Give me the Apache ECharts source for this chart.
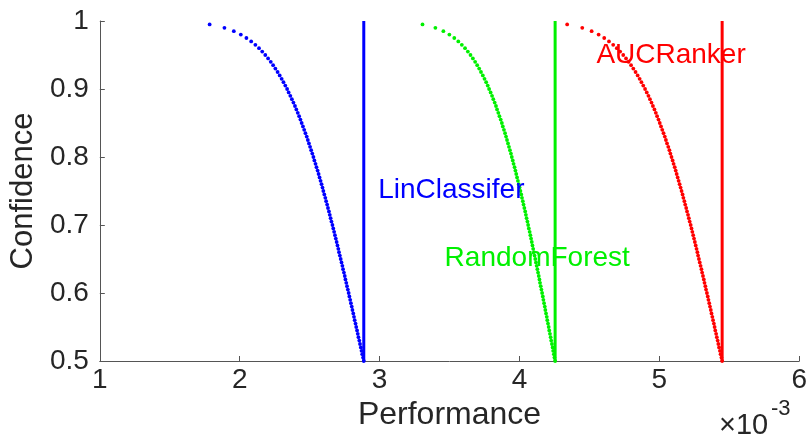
<!DOCTYPE html>
<html>
<head>
<meta charset="utf-8">
<script src="https://cdn.jsdelivr.net/npm/echarts@6/dist/echarts.min.js"></script>
<style>
  html, body { margin: 0; padding: 0; background: #fff; }
  #chart { width: 810px; height: 442px; }
</style>
</head>
<body>
<div id="chart"></div>
<script>
// confidence levels (y) shared by the three dotted curves
var confidence = [0.5, 0.505, 0.51, 0.515, 0.52, 0.525, 0.53, 0.535, 0.54, 0.545,
  0.55, 0.555, 0.56, 0.565, 0.57, 0.575, 0.58, 0.585, 0.59, 0.595,
  0.6, 0.605, 0.61, 0.615, 0.62, 0.625, 0.63, 0.635, 0.64, 0.645,
  0.65, 0.655, 0.66, 0.665, 0.67, 0.675, 0.68, 0.685, 0.69, 0.695,
  0.7, 0.705, 0.71, 0.715, 0.72, 0.725, 0.73, 0.735, 0.74, 0.745,
  0.75, 0.755, 0.76, 0.765, 0.77, 0.775, 0.78, 0.785, 0.79, 0.795,
  0.8, 0.805, 0.81, 0.815, 0.82, 0.825, 0.83, 0.835, 0.84, 0.845,
  0.85, 0.855, 0.86, 0.865, 0.87, 0.875, 0.88, 0.885, 0.89, 0.895,
  0.9, 0.905, 0.91, 0.915, 0.92, 0.925, 0.93, 0.935, 0.94, 0.945,
  0.95, 0.955, 0.96, 0.965, 0.97, 0.975, 0.98, 0.985, 0.99, 0.995];

// performance (x, in units of 1e-3) for each confidence level
var linPerf = [2.887, 2.882, 2.876, 2.871, 2.866, 2.860, 2.855, 2.849, 2.844, 2.839,
  2.833, 2.828, 2.822, 2.817, 2.812, 2.806, 2.801, 2.795, 2.790, 2.784,
  2.779, 2.773, 2.767, 2.762, 2.756, 2.751, 2.745, 2.739, 2.734, 2.728,
  2.722, 2.716, 2.710, 2.705, 2.699, 2.693, 2.687, 2.681, 2.675, 2.669,
  2.663, 2.656, 2.650, 2.644, 2.638, 2.631, 2.625, 2.618, 2.612, 2.605,
  2.598, 2.592, 2.585, 2.578, 2.571, 2.564, 2.557, 2.549, 2.542, 2.534,
  2.527, 2.519, 2.511, 2.503, 2.495, 2.487, 2.479, 2.470, 2.461, 2.452,
  2.443, 2.434, 2.425, 2.415, 2.405, 2.395, 2.384, 2.373, 2.362, 2.350,
  2.339, 2.326, 2.313, 2.300, 2.286, 2.271, 2.255, 2.239, 2.222, 2.203,
  2.183, 2.161, 2.138, 2.112, 2.082, 2.048, 2.008, 1.958, 1.891, 1.785];

var rfPerf = [4.255, 4.250, 4.246, 4.241, 4.237, 4.232, 4.227, 4.223, 4.218, 4.213,
  4.209, 4.204, 4.199, 4.195, 4.190, 4.185, 4.181, 4.176, 4.171, 4.167,
  4.162, 4.157, 4.152, 4.147, 4.143, 4.138, 4.133, 4.128, 4.123, 4.118,
  4.113, 4.108, 4.103, 4.098, 4.093, 4.088, 4.083, 4.078, 4.073, 4.067,
  4.062, 4.057, 4.051, 4.046, 4.041, 4.035, 4.029, 4.024, 4.018, 4.013,
  4.007, 4.001, 3.995, 3.989, 3.983, 3.977, 3.971, 3.965, 3.958, 3.952,
  3.945, 3.939, 3.932, 3.925, 3.918, 3.911, 3.904, 3.897, 3.889, 3.881,
  3.874, 3.866, 3.857, 3.849, 3.840, 3.832, 3.823, 3.813, 3.804, 3.794,
  3.783, 3.773, 3.762, 3.750, 3.738, 3.725, 3.712, 3.698, 3.683, 3.667,
  3.650, 3.631, 3.611, 3.588, 3.563, 3.534, 3.499, 3.456, 3.399, 3.307];

var aucPerf = [5.449, 5.444, 5.438, 5.433, 5.427, 5.422, 5.417, 5.411, 5.406, 5.400,
  5.395, 5.390, 5.384, 5.379, 5.373, 5.368, 5.362, 5.357, 5.351, 5.346,
  5.340, 5.334, 5.329, 5.323, 5.318, 5.312, 5.306, 5.301, 5.295, 5.289,
  5.283, 5.277, 5.272, 5.266, 5.260, 5.254, 5.248, 5.242, 5.236, 5.230,
  5.224, 5.217, 5.211, 5.205, 5.198, 5.192, 5.185, 5.179, 5.172, 5.166,
  5.159, 5.152, 5.145, 5.138, 5.131, 5.124, 5.117, 5.110, 5.102, 5.095,
  5.087, 5.079, 5.072, 5.064, 5.055, 5.047, 5.039, 5.030, 5.021, 5.012,
  5.003, 4.994, 4.984, 4.975, 4.965, 4.954, 4.944, 4.933, 4.922, 4.910,
  4.898, 4.885, 4.872, 4.859, 4.845, 4.830, 4.814, 4.798, 4.780, 4.762,
  4.742, 4.720, 4.696, 4.670, 4.640, 4.606, 4.566, 4.516, 4.449, 4.341];

var names = ['LinClassifer', 'RandomForest', 'AUCRanker'];
var colors = ['#0000ff', '#00f000', '#ff0000'];
var curves = [linPerf, rfPerf, aucPerf];
var meanPerf = [2.887, 4.255, 5.449];     // vertical lines
var labelPos = [[2.99, 0.751], [3.465, 0.651], [4.55, 0.95]];

var FONT = 'Liberation Sans';

function zip(xs, ys) {
  var out = [];
  for (var i = 0; i < xs.length; i++) out.push([xs[i], ys[i]]);
  return out;
}

var series = [];
for (var k = 0; k < names.length; k++) {
  series.push({
    name: names[k] + ' dots',
    type: 'scatter',
    symbol: 'circle',
    symbolSize: 3.8,
    itemStyle: { color: colors[k], opacity: 1 },
    data: zip(curves[k], confidence),
    z: 2
  });
  series.push({
    name: names[k] + ' line',
    type: 'line',
    showSymbol: false,
    symbol: 'none',
    lineStyle: { color: colors[k], width: 3 },
    data: [[meanPerf[k], 0.5], [meanPerf[k], 1]],
    z: 3
  });
  series.push({
    name: names[k],
    type: 'scatter',
    symbolSize: 0,
    silent: true,
    itemStyle: { color: colors[k], opacity: 1 },
    data: [labelPos[k]],
    label: {
      show: true,
      position: 'right',
      distance: 0,
      formatter: names[k],
      color: colors[k],
      opacity: 1,
      fontFamily: FONT,
      fontSize: 28
    },
    z: 4
  });
}

var myChart = echarts.init(document.getElementById('chart'));
var option = {
  animation: false,
  backgroundColor: '#fff',
  grid: { left: 95, right: 10, top: 21, bottom: 81, containLabel: false },
  xAxis: {
    type: 'value',
    min: 1, max: 6, interval: 1,
    name: 'Performance',
    nameLocation: 'middle',
    nameGap: 35,
    nameTextStyle: { color: '#262626', fontFamily: FONT, fontSize: 32 },
    axisLine: { lineStyle: { color: '#555', width: 1 } },
    axisTick: { inside: true, length: 5, lineStyle: { color: '#555' } },
    axisLabel: { color: '#262626', fontFamily: FONT, fontSize: 28, margin: 5 },
    splitLine: { show: false }
  },
  yAxis: {
    type: 'value',
    min: 0.5, max: 1, interval: 0.1,
    name: 'Confidence',
    nameLocation: 'middle',
    nameGap: 44,
    nameTextStyle: { color: '#262626', fontFamily: FONT, fontSize: 31 },
    axisLine: { show: true, lineStyle: { color: '#555', width: 1 } },
    axisTick: { show: true, inside: true, length: 5, lineStyle: { color: '#555' } },
    axisLabel: {
      color: '#262626', fontFamily: FONT, fontSize: 28, margin: 11,
      formatter: function (v) { return v === 1 ? '1' : v.toFixed(1); }
    },
    splitLine: { show: false }
  },
  graphic: [
    { type: 'text', left: 719, top: 411,
      style: { text: '\u00d710', fill: '#262626', font: '29px "Liberation Sans"' } },
    { type: 'text', left: 771, top: 398,
      style: { text: '-3', fill: '#262626', font: '22px "Liberation Sans"' } }
  ],
  series: series
};
myChart.setOption(option);
</script>
</body>
</html>
